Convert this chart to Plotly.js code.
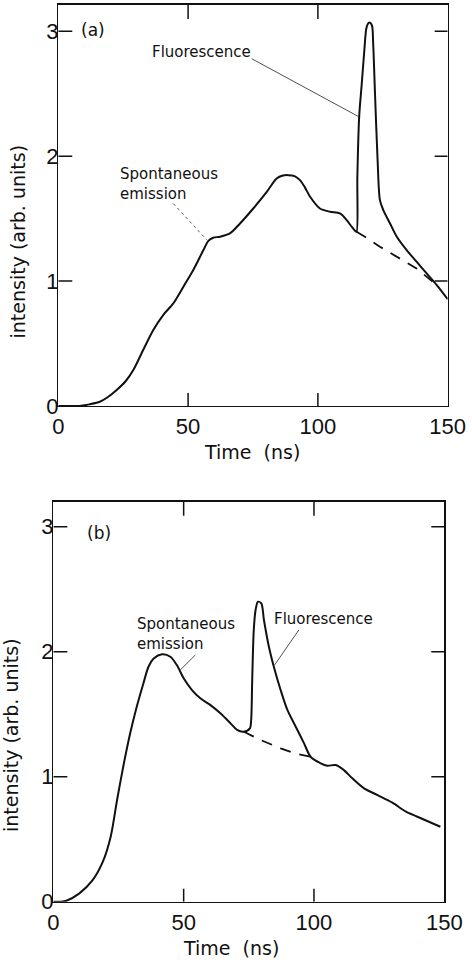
<!DOCTYPE html>
<html>
<head>
<meta charset="utf-8">
<script src="https://cdn.plot.ly/plotly-3.0.1.min.js"></script>
<style>html,body{margin:0;padding:0;background:#fff;}#chart{width:472px;height:960px;}</style>
</head>
<body>
<div id="chart"></div>
<script>
// ---- Panel (a) data ----
var timeA = [0, 8, 10, 12, 16, 19, 22.5, 26, 28.9, 32.7, 36.6, 40.4, 44.3, 48.2, 52, 55.9, 57.8, 59.7, 62.3, 66.1, 70, 75.1, 80.3, 84.1, 86.5, 88.6, 91, 93.1, 95, 97, 100.8, 104.7, 108.5, 111.1, 113, 114.3, 114.9, 115.2, 115.9, 116.9, 117.9, 118.8, 119.8, 120.8, 121.3, 122, 123, 123.9, 125.2, 127.8, 130.4, 134.2, 138, 141.9, 145.8, 150];
var intensityA = [0, 0, 0.005, 0.013, 0.034, 0.07, 0.128, 0.2, 0.288, 0.448, 0.608, 0.728, 0.821, 0.955, 1.088, 1.248, 1.322, 1.347, 1.355, 1.381, 1.461, 1.581, 1.714, 1.821, 1.845, 1.848, 1.84, 1.808, 1.75, 1.675, 1.581, 1.555, 1.541, 1.488, 1.435, 1.403, 1.394, 1.834, 2.315, 2.58, 2.85, 3.035, 3.07, 3.048, 2.9, 2.5, 1.968, 1.648, 1.568, 1.461, 1.355, 1.248, 1.155, 1.061, 0.968, 0.855];
var baseTimeA = [114.9, 118.1, 123.9, 130.4, 138, 145.8];
var baseA = [1.394, 1.355, 1.275, 1.195, 1.101, 0.968];

// ---- Panel (b) data ----
var timeB = [0, 3, 5, 10, 15, 19, 22, 24.5, 27, 29.5, 32, 34.6, 36.5, 38.5, 41.7, 44.9, 47.4, 50, 53.2, 56.4, 60.3, 64.1, 68, 70.5, 73.1, 75.4, 75.9, 76.3, 76.9, 77.6, 78.5, 79.8, 80.8, 82.7, 84.6, 87.2, 89.8, 93, 96.2, 98.7, 102.6, 105.1, 108.3, 111.5, 114.7, 119.2, 124.4, 130.1, 135.3, 139.7, 148.5];
var intensityB = [0, 0, 0.008, 0.067, 0.17, 0.32, 0.52, 0.82, 1.1, 1.35, 1.56, 1.75, 1.88, 1.945, 1.979, 1.96, 1.893, 1.787, 1.693, 1.627, 1.573, 1.507, 1.427, 1.374, 1.36, 1.387, 1.454, 1.774, 2.174, 2.334, 2.4, 2.387, 2.254, 2.04, 1.88, 1.694, 1.534, 1.4, 1.267, 1.16, 1.107, 1.088, 1.093, 1.053, 0.987, 0.907, 0.853, 0.792, 0.72, 0.68, 0.6];
var baseTimeB = [73.1, 79.5, 87.2, 93, 98.7];
var baseB = [1.36, 1.294, 1.227, 1.185, 1.16];

// ---- Tick labels ----
var xTicks = [0, 50, 100, 150];
var xTickText = ['0', '50', '100', '150'];
var yTicks = [0, 1, 2, 3];
var yTickText = ['0', '1', '2', '3'];

var xMax = 150;
var yMaxA = 3.21;
var yMaxB = 3.2;

var solid = {color: '#111', width: 2, shape: 'spline', smoothing: 0.8};
var dashed = {color: '#111', width: 1.8, dash: '11px,9px'};

var traces = [
  {x: timeA, y: intensityA, xaxis: 'x', yaxis: 'y', mode: 'lines', line: solid, name: 'Total (a)'},
  {x: baseTimeA, y: baseA, xaxis: 'x', yaxis: 'y', mode: 'lines', line: dashed, name: 'Spontaneous (a)'},
  {x: timeB, y: intensityB, xaxis: 'x2', yaxis: 'y2', mode: 'lines', line: solid, name: 'Total (b)'},
  {x: baseTimeB, y: baseB, xaxis: 'x2', yaxis: 'y2', mode: 'lines', line: dashed, name: 'Spontaneous (b)'}
];

var tickFont = {family: 'Liberation Sans, Arial, sans-serif', size: 22, color: '#111'};
var txtFont = {family: 'DejaVu Sans, sans-serif', size: 15, color: '#111'};
var titleFont = {family: 'DejaVu Sans, sans-serif', size: 19, color: '#111'};
var panelFont = {family: 'DejaVu Sans, sans-serif', size: 17, color: '#111'};

function xax(domain, anchor) {
  return {domain: domain, anchor: anchor, range: [0, xMax], tickvals: xTicks, ticktext: xTickText,
    ticks: '', showline: true, linecolor: '#111', linewidth: 1.5, mirror: true,
    showgrid: false, zeroline: false, tickfont: tickFont, ticklabelstandoff: 0, fixedrange: true};
}
function yax(domain, anchor, top) {
  return {domain: domain, anchor: anchor, range: [0, top], tickvals: yTicks, ticktext: yTickText,
    ticks: '', showline: true, linecolor: '#111', linewidth: 1.5, mirror: true,
    showgrid: false, zeroline: false, tickfont: tickFont, ticklabelstandoff: -6, fixedrange: true};
}

// inside tick marks on all four sides of each frame, built from the tick arrays
var tickShapes = [];
function addTicks(xr, yr, yTop) {
  var st = {color: '#111', width: 1.5};
  xTicks.forEach(function (t) {
    if (t <= 0 || t >= xMax) return;
    tickShapes.push({type: 'line', xref: xr, yref: yr, x0: t, x1: t, ysizemode: 'pixel', yanchor: 0, y0: 0, y1: 13, line: st});
    tickShapes.push({type: 'line', xref: xr, yref: yr, x0: t, x1: t, ysizemode: 'pixel', yanchor: yTop, y0: 0, y1: -14, line: st});
  });
  yTicks.forEach(function (t) {
    if (t <= 0 || t >= yTop) return;
    tickShapes.push({type: 'line', xref: xr, yref: yr, y0: t, y1: t, xsizemode: 'pixel', xanchor: 0, x0: 0, x1: 14, line: st});
    tickShapes.push({type: 'line', xref: xr, yref: yr, y0: t, y1: t, xsizemode: 'pixel', xanchor: xMax, x0: 0, x1: -13, line: st});
  });
}
addTicks('x', 'y', yMaxA);
addTicks('x2', 'y2', yMaxB);

var leaderShapes = [
  {type: 'line', xref: 'x', yref: 'y', x0: 74.5, y0: 2.78, x1: 115.8, y1: 2.315, line: {color: '#222', width: 0.8}},
  {type: 'line', xref: 'x', yref: 'y', x0: 44.3, y0: 1.62, x1: 57.2, y1: 1.33, line: {color: '#333', width: 0.8, dash: 'dot'}},
  {type: 'line', xref: 'x2', yref: 'y2', x0: 54.5, y0: 1.974, x1: 48.7, y1: 1.854, line: {color: '#222', width: 0.8}},
  {type: 'line', xref: 'x2', yref: 'y2', x0: 94.2, y0: 2.174, x1: 84.9, y1: 1.894, line: {color: '#222', width: 0.8}}
];

var layout = {
  width: 472, height: 960,
  margin: {l: 0, r: 0, t: 0, b: 0},
  paper_bgcolor: '#fff', plot_bgcolor: '#fff',
  showlegend: false,
  xaxis: xax([0.1235, 0.9485], 'y'),
  yaxis: yax([0.5771, 0.9948], 'x', yMaxA),
  xaxis2: xax([0.1130, 0.9413], 'y2'),
  yaxis2: yax([0.0607, 0.4774], 'x2', yMaxB),
  annotations: [
    {xref: 'x', yref: 'y', x: 8, y: 3.01, text: '(a)', showarrow: false, xanchor: 'left', yanchor: 'middle', font: panelFont},
    {xref: 'x', yref: 'y', x: 35.3, y: 2.834, text: 'Fluorescence', showarrow: false, xanchor: 'left', yanchor: 'middle', font: txtFont},
    {xref: 'x', yref: 'y', x: 23, y: 1.776, text: 'Spontaneous<br>emission', align: 'left', showarrow: false, xanchor: 'left', yanchor: 'middle', font: txtFont},
    {xref: 'x2', yref: 'y2', x: 12.2, y: 2.947, text: '(b)', showarrow: false, xanchor: 'left', yanchor: 'middle', font: panelFont},
    {xref: 'x2', yref: 'y2', x: 84, y: 2.259, text: 'Fluorescence', showarrow: false, xanchor: 'left', yanchor: 'middle', font: txtFont},
    {xref: 'x2', yref: 'y2', x: 31.4, y: 2.14, text: 'Spontaneous<br>emission', align: 'left', showarrow: false, xanchor: 'left', yanchor: 'middle', font: txtFont},
    {xref: 'paper', yref: 'paper', x: 252 / 472, y: 1 - 452 / 960, text: 'Time  (ns)', showarrow: false, xanchor: 'center', yanchor: 'middle', font: titleFont},
    {xref: 'paper', yref: 'paper', x: 17.5 / 472, y: 1 - 242 / 960, text: 'intensity (arb. units)', textangle: -90, showarrow: false, xanchor: 'center', yanchor: 'middle', font: titleFont},
    {xref: 'paper', yref: 'paper', x: 231 / 472, y: 1 - 948 / 960, text: 'Time  (ns)', showarrow: false, xanchor: 'center', yanchor: 'middle', font: titleFont},
    {xref: 'paper', yref: 'paper', x: 11 / 472, y: 1 - 735 / 960, text: 'intensity (arb. units)', textangle: -90, showarrow: false, xanchor: 'center', yanchor: 'middle', font: titleFont}
  ],
  shapes: tickShapes.concat(leaderShapes)
};

Plotly.newPlot('chart', traces, layout, {staticPlot: true, displayModeBar: false});
</script>
</body>
</html>
